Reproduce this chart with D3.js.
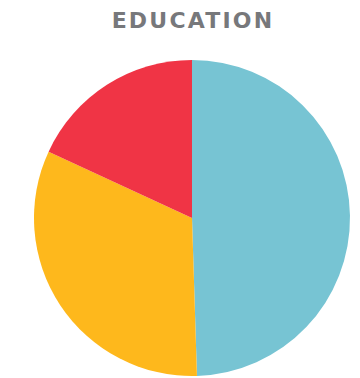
<!DOCTYPE html>
<html>
<head>
<meta charset="utf-8">
<script src="https://cdn.jsdelivr.net/npm/d3@7"></script>
<style>
  body { margin: 0; background: #fff; }
  svg { display: block; }
</style>
</head>
<body>
<div id="chart"></div>
<script>
// education breakdown (percent)
var categories = ["A", "B", "C"];
var values = [49.5, 32.4, 18.1];
var colors = ["#77c4d3", "#feb81c", "#f03445"];

var width = 360, height = 378;
var cx = 192, cy = 218, radius = 158;

var svg = d3.select("#chart").append("svg")
    .attr("width", width)
    .attr("height", height);

svg.append("text")
    .attr("x", cx + 1)
    .attr("y", 28)
    .attr("text-anchor", "middle")
    .attr("fill", "#77787b")
    .style("font-family", "DejaVu Sans")
    .style("font-weight", "bold")
    .style("font-size", "22px")
    .style("letter-spacing", "2.2px")
    .text("EDUCATION");

var pie = d3.pie().sort(null).value(function(d){ return d; });
var arc = d3.arc().innerRadius(0).outerRadius(radius);

var g = svg.append("g").attr("transform", "translate(" + cx + "," + cy + ")");
g.selectAll("path")
    .data(pie(values))
    .enter()
    .append("path")
    .attr("d", arc)
    .attr("fill", function(d, i){ return colors[i]; });
</script>
</body>
</html>
